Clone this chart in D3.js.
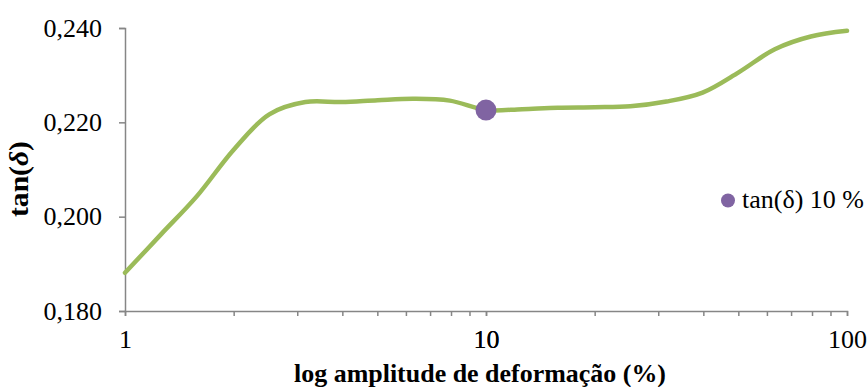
<!DOCTYPE html>
<html>
<head>
<meta charset="utf-8">
<script src="https://cdn.jsdelivr.net/npm/d3@7"></script>
</head>
<body style="margin:0">
<svg id="chart" width="868" height="387" font-family="Liberation Serif, serif"></svg>
<script>
// strain amplitude (%) and tan(delta)
const strain = [1, 1.26, 1.58, 2, 2.51, 3.16, 3.98, 5.01, 6.31, 7.94, 10,
  12.6, 15.8, 20, 25.1, 31.6, 39.8, 50.1, 63.1, 79.4, 100];
const tanDelta = [0.1881, 0.1963, 0.2043, 0.2142, 0.2217, 0.2243, 0.2243, 0.2247, 0.2250, 0.2246, 0.2226,
  0.2228, 0.2231, 0.2232, 0.2234, 0.2244, 0.2263, 0.2306, 0.2355, 0.2382, 0.2394];
const marker = [{ x: 10, y: 0.2226 }];
const yTicks = [0.18, 0.20, 0.22, 0.24];
const xTicks = [1, 10, 100];
const legendLabel = 'tan(δ) 10 %';

const fontFam = '"Liberation Serif"';
const margin = { top: 28, right: 21, bottom: 76, left: 125 };
const width = 868 - margin.left - margin.right;
const height = 387 - margin.top - margin.bottom;

const root = d3.select('#chart');
const svg = root.append('g')
  .attr('transform', 'translate(' + margin.left + ',' + margin.top + ')');

const x = d3.scaleLog().domain([1, 100]).range([0, width]);
const y = d3.scaleLinear().domain([0.18, 0.24]).range([height, 0]);

const fmt = d => d3.format('.3f')(d).replace('.', ',');

// x axis with minor ticks
const minor = [];
for (let d = 1; d < 100; d *= 10) {
  for (let k = 1; k <= 10; k++) minor.push(d * k);
}
const xAxis = svg.append('g').attr('transform', 'translate(0,' + height + ')')
  .call(d3.axisBottom(x).tickValues(minor).tickSize(5).tickPadding(14)
    .tickFormat(d => xTicks.includes(d) ? d : ''));

const yAxis = svg.append('g')
  .call(d3.axisLeft(y).tickValues(yTicks).tickSize(6).tickPadding(17).tickFormat(fmt));

[xAxis, yAxis].forEach(a => {
  a.attr('font-family', null).attr('font-size', null);
  a.selectAll('text').attr('fill', '#000').attr('font-size', 26);
});

svg.selectAll('.domain').attr('stroke', '#868686').attr('stroke-width', 1.5);
svg.selectAll('.tick line').attr('stroke', '#868686').attr('stroke-width', 1.5);

// line
const line = d3.line()
  .x((d, i) => x(strain[i]))
  .y(d => y(d))
  .curve(d3.curveCatmullRom.alpha(0.5));

svg.append('path')
  .datum(tanDelta)
  .attr('fill', 'none')
  .attr('stroke', '#9BBB59')
  .attr('stroke-width', 4.5)
  .attr('stroke-linecap', 'round')
  .attr('d', line);

svg.selectAll('.pt')
  .data(marker)
  .enter().append('circle')
  .attr('class', 'pt')
  .attr('cx', d => x(d.x))
  .attr('cy', d => y(d.y))
  .attr('r', 10.5)
  .attr('fill', '#8064A2');

// legend
const lg = root.append('g').attr('transform', 'translate(728,200.5)');
lg.append('circle').attr('r', 7).attr('fill', '#8064A2');
lg.append('text').attr('x', 14).attr('y', 7).attr('font-size', 26).text(legendLabel);

// axis titles (condensed bold, as in the original)
root.append('text')
  .attr('x', 480).attr('y', 382)
  .attr('text-anchor', 'middle').attr('font-weight', 'bold').attr('font-size', 26)
  .attr('textLength', 372).attr('lengthAdjust', 'spacingAndGlyphs')
  .text('log amplitude de deformação (%)');

const yt = root.append('text')
  .attr('transform', 'translate(28,179) rotate(-90)')
  .attr('text-anchor', 'middle').attr('font-weight', 'bold').attr('font-size', 27)
  .attr('textLength', 76).attr('lengthAdjust', 'spacingAndGlyphs');
yt.append('tspan').text('tan(');
yt.append('tspan').attr('font-style', 'italic').text('δ');
yt.append('tspan').text(')');

root.selectAll('text').style('font-family', fontFam);
</script>
</body>
</html>
